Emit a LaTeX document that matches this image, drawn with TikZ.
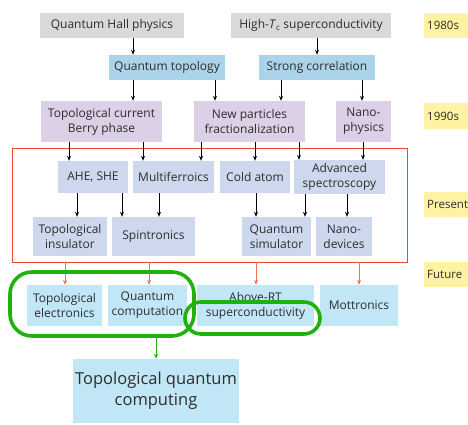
\documentclass[tikz,border=0pt]{standalone}
\usepackage{fontspec}
\setmainfont{Open Sans}
\usepackage{tikz}
\usetikzlibrary{
  arrows.meta,
  positioning,
  calc
}
\definecolor{txtgray}{RGB}{45,45,45}
\definecolor{oldbg}{RGB}{217,217,217}
\definecolor{themebg}{RGB}{171,212,234}
\definecolor{fieldbg}{RGB}{220,208,230}
\definecolor{nowbg}{RGB}{205,216,238}
\definecolor{futurebg}{RGB}{193,231,247}
\definecolor{erabg}{RGB}{255,243,163}
\definecolor{nowred}{RGB}{232,74,46}
\definecolor{futred}{RGB}{240,110,90}
\definecolor{loopgreen}{RGB}{32,178,12}

\begin{document}
\begin{tikzpicture}[
  x=1pt, y=-1pt,
  every node/.style={font=\fontsize{12}{15}\selectfont, text=txtgray},
  box/.style={
    rectangle, inner sep=0pt, align=center,
    minimum height=25pt
  },
  oldbox/.style={box, fill=oldbg},
  themebox/.style={box, fill=themebg},
  fieldbox/.style={box, fill=fieldbg, minimum height=41pt},
  nowbox/.style={box, fill=nowbg, minimum height=32pt},
  futurebox/.style={box, fill=futurebg, minimum height=41pt},
  erabox/.style={box, fill=erabg, anchor=west, text width=46pt, inner xsep=3pt,
    align=left, font=\fontsize{11.5}{14}\selectfont},
  loopbox/.style={rectangle, draw=loopgreen, line width=3.6pt},
  arr/.style={-{Stealth[length=5pt,width=4pt]}, line width=0.8pt, color=black},
  redarr/.style={-{Stealth[length=5pt,width=4pt]}, line width=0.8pt, color=futred},
  greenarr/.style={-{Stealth[length=5pt,width=4pt]}, line width=0.9pt, color=loopgreen}
]
  \useasboundingbox (0,0) rectangle (468,425);

  % 1980s
  \node[oldbox, minimum width=144pt] (qhall) at (112,25.5) {Quantum Hall physics};
  \node[oldbox, minimum width=160pt] (hightc) at (311,25.5) {High-\textit{T}\textsubscript{c} superconductivity};
  \node[themebox, minimum width=116pt] (qtop) at (167,67.5) {Quantum topology};
  \node[themebox, minimum width=116pt] (strong) at (317,67.5) {Strong correlation};

  % 1990s
  \node[fieldbox, minimum width=121pt] (tcur) at (101.5,121.5) {Topological current\\Berry phase};
  \node[fieldbox, minimum width=111pt] (newp) at (249.5,121.5) {New particles\\fractionalization};
  \node[fieldbox, minimum width=55pt] (nano) at (363.5,121.5) {Nano-\\physics};

  % Present
  \node[rectangle, draw=nowred, line width=0.8pt, minimum width=395pt, minimum height=114pt]
      (now) at (209.5,205) {};
  \node[nowbox, minimum width=70pt] (ahe) at (93,177) {AHE, SHE};
  \node[nowbox, minimum width=81pt] (mf) at (173.5,177) {Multiferroics};
  \node[nowbox, minimum width=70pt] (cold) at (255,177) {Cold atom};
  \node[nowbox, minimum width=91pt, minimum height=34pt] (adv) at (339.5,177) {Advanced\\spectroscopy};
  \node[nowbox, minimum width=74pt, minimum height=39pt] (tins) at (70,236.5) {Topological\\insulator};
  \node[nowbox, minimum width=83pt, minimum height=39pt] (spin) at (153.5,236.5) {Spintronics};
  \node[nowbox, minimum width=69pt, minimum height=39pt] (qsim) at (276.5,236.5) {Quantum\\simulator};
  \node[nowbox, minimum width=56pt, minimum height=39pt] (ndev) at (344,236.5) {Nano-\\devices};

  % Future
  \node[futurebox, minimum width=75pt] (tel) at (64.5,305.5) {Topological\\electronics};
  \node[futurebox, minimum width=79pt] (qcomp) at (147.5,305.5) {Quantum\\computation};
  \node[futurebox, minimum width=117pt] (art) at (255.5,305.5) {Above-RT\\superconductivity};
  \node[futurebox, minimum width=78pt] (mott) at (359,305.5) {Mottronics};
  \node[futurebox, minimum width=166pt, minimum height=64pt,
        font=\fontsize{16.5}{21}\selectfont] (tqc) at (156,391) {Topological quantum\\computing};

  % Era labels
  \node[erabox] (e80) at (424,25.5) {1980s};
  \node[erabox] (e90) at (424,116) {1990s};
  \node[erabox] (enow) at (424,204.5) {Present};
  \node[erabox] (efut) at (424,274) {Future};

  % Arrows
  \foreach \from/\to/\x in {qhall/qtop/133, hightc/strong/317, qtop/tcur/133, qtop/newp/215,
                             strong/newp/281, strong/nano/362, tcur/ahe/69, tcur/mf/143,
                             newp/mf/201, newp/cold/255, newp/adv/299, nano/adv/363,
                             ahe/tins/77, ahe/spin/122, mf/spin/159, cold/qsim/256,
                             adv/qsim/305, adv/ndev/347} {
    \draw[arr] (\from.south -| \x,0) -- (\to.north -| \x,0);
  }
  \foreach \to/\x in {tel/65, qcomp/149, art/256, mott/359} {
    \draw[redarr] (now.south -| \x,0) -- (\to.north -| \x,0);
  }

  % Green loops
  \node[loopbox, rounded corners=22pt, minimum width=184pt, minimum height=64pt] (qloop) at (102,304) {};
  \node[loopbox, rounded corners=16pt, minimum width=135pt, minimum height=32pt] (scloop) at (252.5,318) {};
  \draw[greenarr] (qloop.south -| 156,0) -- (tqc.north -| 156,0);
\end{tikzpicture}
\end{document}
